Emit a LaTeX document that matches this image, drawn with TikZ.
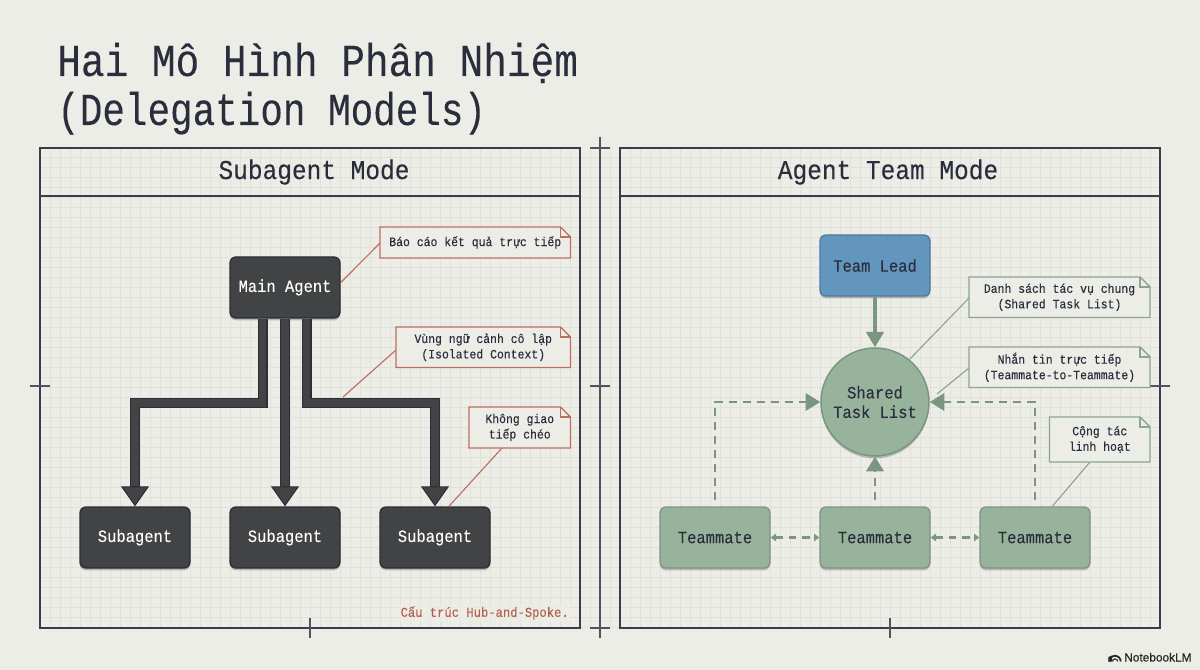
\documentclass[tikz,border=0pt]{standalone}
\usepackage{fontspec}
\setmainfont[FakeStretch=0.9,FakeBold=0.2]{Liberation Mono}
\newfontfamily\titleA[FakeStretch=0.86,FakeBold=0.1]{Liberation Mono}
\newfontfamily\titleB[FakeStretch=0.82,FakeBold=0.1]{Liberation Mono}
\newfontfamily\brandfont[FakeBold=0.5]{Liberation Sans}
\usetikzlibrary{arrows.meta,shadows}
\definecolor{bgc}{HTML}{EDEDE7}
\definecolor{gridc}{HTML}{E1E1DA}
\definecolor{inkc}{HTML}{2A2D3C}
\definecolor{darkf}{HTML}{414345}
\definecolor{darkb}{HTML}{2B2D38}
\definecolor{bluef}{HTML}{6296BE}
\definecolor{blueb}{HTML}{4C7A9E}
\definecolor{greenf}{HTML}{98B39C}
\definecolor{greenb}{HTML}{7A9680}
\definecolor{redc}{HTML}{BC6F60}
\definecolor{redt}{HTML}{B5604F}
\definecolor{noteg}{HTML}{8CA590}
\tikzset{
  x=.75pt,y=-.75pt,
  softshadow/.style={drop shadow={shadow xshift=0pt,shadow yshift=-1.8pt,opacity=.22,fill=black}},
  boxbase/.style={rounded corners=4.5pt,minimum width=82.5pt,minimum height=45.75pt,inner sep=0pt,line width=1pt,softshadow,font=\fontsize{12.9}{14.6}\selectfont,align=center},
  darkbox/.style={boxbase,draw=darkb,fill=darkf,text=white!90!bgc},
  bluebox/.style={boxbase,draw=blueb,fill=bluef,text=inkc},
  greenbox/.style={boxbase,draw=greenb,fill=greenf,text=inkc},
  hubnode/.style={circle,draw=greenb,fill=greenf,text=inkc,line width=1.1pt,minimum size=81pt,inner sep=0pt,softshadow,font=\fontsize{12.9}{14.6}\selectfont,align=center},
  paneline/.style={draw=inkc!92!bgc,line width=.85pt},
  halo/.style={draw=white!70!bgc,line width=2.2pt},
  tickline/.style={draw=inkc!80!bgc,line width=.95pt},
  headtext/.style={text=inkc,font=\fontsize{20.4}{24}\selectfont,inner sep=0pt},
  titleone/.style={text=inkc,anchor=base west,inner sep=0pt,font=\titleA\fontsize{34.4}{40}\selectfont},
  titletwo/.style={text=inkc,anchor=base west,inner sep=0pt,font=\titleB\fontsize{34.4}{40}\selectfont},
  notetext/.style={text=inkc,inner sep=0pt,align=center,font=\fontsize{9.55}{11.6}\selectfont},
  redleader/.style={draw=redc,line width=.85pt},
  greenleader/.style={draw=noteg,line width=.85pt},
  spokeout/.style={draw=darkb,line width=7.5pt,miter limit=10,shorten >=14pt},
  spokein/.style={draw=darkf,line width=5.6pt,miter limit=10,-{Triangle[length=15pt,width=21pt,fill=darkf,color=darkb,line width=.8pt]}},
  solidlink/.style={draw=greenb,line width=2.6pt,-{Triangle[length=11.5pt,width=13pt]}},
  dashlink/.style={draw=greenb,line width=2.2pt,dash pattern=on 6pt off 4.5pt,-{Triangle[length=11pt,width=13pt]},shorten <=4.5pt},
  sidelink/.style={draw=greenb,line width=1.9pt,dash pattern=on 5.5pt off 4.5pt,{Triangle[length=4pt,width=5.5pt]}-{Triangle[length=4pt,width=5.5pt]}},
}
% #1 name, #2 x0, #3 y0, #4 x1, #5 y1, #6 colour, #7 text
\newcommand{\notebox}[7]{%
  \path[fill=bgc,draw=#6,line width=1.05pt,line join=miter] (#2,#3) -- (#4-10,#3) -- (#4,#3+10) -- (#4,#5) -- (#2,#5) -- cycle;
  \path[draw=#6,line width=.8pt] (#4-10,#3) -- (#4-10,#3+10) -- (#4,#3+10);
  \node[notetext,minimum width={(#4-#2)*.75pt},minimum height={(#5-#3)*.75pt}] (#1) at ({(#2+#4)/2},{(#3+#5)/2}) {#7};
}
\begin{document}
\begin{tikzpicture}
\useasboundingbox (0,0) rectangle (1200,670);
\fill[bgc] (0,0) rectangle (1200,670);
% grid
\foreach \gx in {40,50,...,1160} {\draw[gridc,line width=.7pt] (\gx,147) -- (\gx,628);}
\foreach \gy in {157,167,...,627} {\draw[gridc,line width=.7pt] (40,\gy) -- (1160,\gy);}
% title
\node[titleone] (title1) at (57,76) {Hai Mô Hình Phân Nhiệm};
\node[titletwo] (title2) at (57,125) {(Delegation Models)};
% panels
\draw[halo] (40,148) rectangle (580,628) (40,196) -- (580,196);
\draw[halo] (620,148) rectangle (1160,628) (620,196) -- (1160,196);
\draw[paneline] (40,148) rectangle (580,628) (40,196) -- (580,196);
\draw[paneline] (620,148) rectangle (1160,628) (620,196) -- (1160,196);
% registration ticks
\draw[tickline] (600,137) -- (600,638);
\draw[tickline] (590,148) -- (610,148) (590,386) -- (610,386) (590,628) -- (610,628);
\draw[tickline] (30,386) -- (50,386) (1150,386) -- (1170,386);
\draw[tickline] (310,618) -- (310,638) (890,618) -- (890,638);
% headers
\node[headtext] (headL) at (314,172) {Subagent Mode};
\node[headtext] (headR) at (888,172) {Agent Team Mode};
% left nodes
\node[darkbox] (main) at (285,287.5) {Main Agent};
\node[darkbox] (sub1) at (135,537.5) {Subagent};
\node[darkbox] (sub2) at (285,537.5) {Subagent};
\node[darkbox] (sub3) at (435,537.5) {Subagent};
% thick spokes
\coordinate (bendL) at (262.5,403);
\coordinate (bendR) at (306.5,403);
\draw[spokeout] (main.south -| bendL) -- (bendL) -- (bendL -| sub1.north) -- (sub1.north);
\draw[spokeout] (main.south) -- (sub2.north);
\draw[spokeout] (main.south -| bendR) -- (bendR) -- (bendR -| sub3.north) -- (sub3.north);
\draw[spokein] (main.south -| bendL) -- (bendL) -- (bendL -| sub1.north) -- (sub1.north);
\draw[spokein] (main.south) -- (sub2.north);
\draw[spokein] (main.south -| bendR) -- (bendR) -- (bendR -| sub3.north) -- (sub3.north);
% left notes
\coordinate (isoEnd) at (343,397);
\draw[redleader] (380,243) -- (main.5);
\draw[redleader] (396,350) -- (isoEnd);
\draw[redleader] (502,448) -- (sub3.66);
\notebox{noteA}{380}{227}{570.5}{258}{redc}{Báo cáo kết quả trực tiếp}
\notebox{noteB}{396}{327}{570.5}{367.5}{redc}{Vùng ngữ cảnh cô lập\\(Isolated Context)}
\notebox{noteC}{469}{407}{570.5}{448}{redc}{Không giao\\tiếp chéo}
\node[fill=bgc,fill opacity=.7,text opacity=1,text=redt,anchor=east,inner sep=1.5pt,font=\fontsize{10.15}{12}\selectfont] (caption) at (571,613) {Cấu trúc Hub-and-Spoke.};
% right nodes
\node[bluebox] (lead) at (875,265.5) {Team Lead};
\node[hubnode] (hub) at (875,402) {Shared\\Task List};
\node[greenbox] (t1) at (715,537.5) {Teammate};
\node[greenbox] (t2) at (875,537.5) {Teammate};
\node[greenbox] (t3) at (1035,537.5) {Teammate};
% links
\draw[solidlink] (lead.south) -- (hub.north);
\draw[dashlink] (t1.north) |- (hub.west);
\draw[dashlink] (t3.north) |- (hub.east);
\draw[dashlink] (t2.north) -- (hub.south);
\draw[sidelink] (t1.east) -- (t2.west);
\draw[sidelink] (t2.east) -- (t3.west);
% right notes
\coordinate (msgEnd) at (937,394);
\draw[greenleader] (969,298) -- (hub.51);
\draw[greenleader] (969,368) -- (msgEnd);
\draw[greenleader] (1090,462) -- (t3.61);
\notebox{noteD}{969}{277}{1150}{317.5}{noteg}{Danh sách tác vụ chung\\(Shared Task List)}
\notebox{noteE}{969}{347}{1150}{387.5}{noteg}{Nhắn tin trực tiếp\\(Teammate-to-Teammate)}
\notebox{noteF}{1049.5}{417}{1150}{462}{noteg}{Cộng tác\\linh hoạt}
% brand
\draw[black!85,line width=1.3pt] (1109.3,661.5) arc[start angle=180,end angle=360,radius=5.7];
\draw[black!85,line width=.8pt] (1112.5,661.5) arc[start angle=180,end angle=360,radius=2.6];
\fill[black!85] (1108.4,661.5) -- (1108.4,657) -- (1112.2,655.5) -- (1112.2,661.5) -- cycle;
\node[anchor=base west,inner sep=0pt,text=black!85,font=\brandfont\fontsize{8.9}{11}\selectfont] (brand) at (1124,661.5) {NotebookLM};
\end{tikzpicture}
\end{document}
